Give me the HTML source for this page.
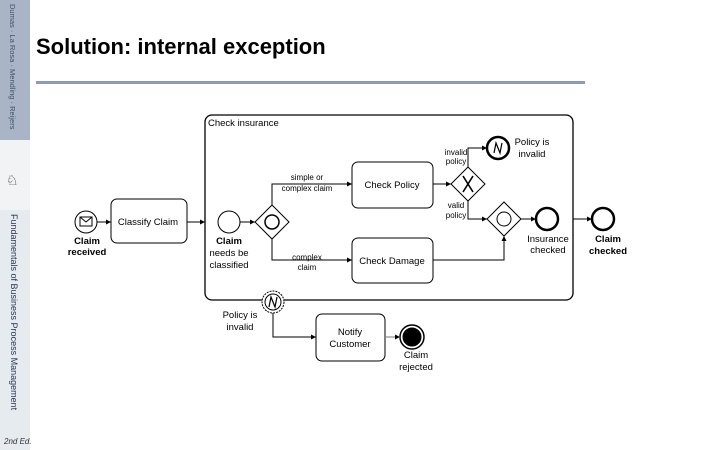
<!DOCTYPE html>
<html><head><meta charset="utf-8"><style>
html,body{margin:0;padding:0;background:#fff;}
body{width:720px;height:450px;position:relative;overflow:hidden;font-family:"Liberation Sans",sans-serif;}
</style></head><body>
<div style="position:absolute;left:0;top:0;width:30px;height:140px;background:#a9b5c6"></div>
<div style="position:absolute;left:0;top:140px;width:30px;height:70px;background:#f1f3f5"></div>
<div style="position:absolute;left:0;top:210px;width:30px;height:240px;background:#e6ebf0"></div>
<div style="position:absolute;left:8px;top:4px;height:130px;writing-mode:vertical-rl;font-size:7.5px;color:#40506a;white-space:nowrap;">Dumas · La Rosa · Mendling · Reijers</div>
<div style="position:absolute;left:9px;top:214px;height:200px;writing-mode:vertical-rl;font-size:9px;color:#2a3550;white-space:nowrap;">Fundamentals of Business Process Management</div>
<div style="position:absolute;left:4px;top:437px;font-size:8px;font-style:italic;color:#333">2nd Ed.</div>
<div style="position:absolute;left:6px;top:172px;font-size:14px;color:#222">♘</div>
<div style="position:absolute;left:36px;top:34px;font-size:22px;font-weight:bold;color:#000">Solution: internal exception</div>
<div style="position:absolute;left:36px;top:81px;width:549px;height:3px;background:#8e9bb0"></div>
<svg width="720" height="450" style="position:absolute;left:0;top:0" font-family="Liberation Sans, sans-serif">
<defs><marker id="a" markerWidth="6" markerHeight="6" refX="5" refY="3" orient="auto"><path d="M0,0.5 L5,3 L0,5.5z" fill="#000"/></marker></defs>
<g fill="none" stroke="#000" stroke-width="1">
<rect x="205" y="115" width="368" height="185" rx="7" stroke-width="1.3"/>
<rect x="111" y="199" width="76" height="44" rx="6"/>
<rect x="352" y="162" width="81" height="46" rx="6"/>
<rect x="352" y="238" width="81" height="45" rx="6"/>
<rect x="316" y="314" width="69" height="47" rx="6"/>
<circle cx="86" cy="222" r="11"/>
<rect x="80" y="217" width="12" height="9"/><path d="M80,217 L86,222 L92,217"/>
<circle cx="229" cy="222" r="11"/>
<path d="M272,205 L289,222 L272,239 L255,222z"/><circle cx="272" cy="222" r="7" stroke-width="1.5"/>
<path d="M468,167 L485,184 L468,201 L451,184z"/>
<path d="M463,176 L473,192 M473,176 L463,192" stroke-width="1.6"/>
<path d="M504,202 L521,219 L504,236 L487,219z"/><circle cx="504" cy="219" r="7"/>
<circle cx="498" cy="148" r="11" stroke-width="2.5"/>
<path d="M494,153 L496,143 L500,153 L502,143" stroke-width="1.2"/>
<circle cx="547" cy="219" r="11" stroke-width="2.5"/>
<circle cx="603" cy="219" r="11" stroke-width="2.5"/>
<circle cx="273" cy="302" r="11" fill="#fff" stroke-dasharray="2,1"/><circle cx="273" cy="302" r="8"/>
<path d="M269,307 L271,297 L275,307 L277,297" stroke-width="1.2"/>
<circle cx="412" cy="337" r="12" stroke-width="1.5"/><circle cx="412" cy="337" r="9" fill="#000"/>
<path d="M97,222 L111,222" marker-end="url(#a)"/>
<path d="M187,222 L205,222" marker-end="url(#a)"/>
<path d="M240,222 L255,222" marker-end="url(#a)"/>
<path d="M272,205 L272,184 L352,184" marker-end="url(#a)"/>
<path d="M272,239 L272,260 L352,260" marker-end="url(#a)"/>
<path d="M433,184 L451,184" marker-end="url(#a)"/>
<path d="M468,167 L468,148 L487,148" marker-end="url(#a)"/>
<path d="M468,201 L468,219 L487,219" marker-end="url(#a)"/>
<path d="M433,260 L504,260 L504,236" marker-end="url(#a)"/>
<path d="M521,219 L536,219" marker-end="url(#a)"/>
<path d="M573,219 L592,219" marker-end="url(#a)"/>
<path d="M273,313 L273,337 L316,337" marker-end="url(#a)"/>
<path d="M385,337 L400,337" stroke="#777" marker-end="url(#a)"/>
</g>
<g font-size="9.5" fill="#000" text-anchor="middle">
<text x="208" y="126" text-anchor="start">Check insurance</text>
<text x="148" y="225">Classify Claim</text>
<text x="392" y="188">Check Policy</text>
<text x="392" y="264">Check Damage</text>
<text x="350" y="335">Notify</text><text x="350" y="347">Customer</text>
<text x="87" y="244" font-weight="bold">Claim</text><text x="87" y="255" font-weight="bold">received</text>
<text x="229" y="244" font-weight="bold">Claim</text><text x="229" y="256">needs be</text><text x="229" y="268">classified</text>
<text x="307" y="180" font-size="8">simple or</text><text x="307" y="191" font-size="8">complex claim</text>
<text x="307" y="260" font-size="8">complex</text><text x="307" y="270" font-size="8">claim</text>
<text x="456" y="155" font-size="8">invalid</text><text x="456" y="164" font-size="8">policy</text>
<text x="456" y="208" font-size="8">valid</text><text x="456" y="218" font-size="8">policy</text>
<text x="532" y="145">Policy is</text><text x="532" y="157">invalid</text>
<text x="548" y="242">Insurance</text><text x="548" y="253">checked</text>
<text x="608" y="242" font-weight="bold">Claim</text><text x="608" y="254" font-weight="bold">checked</text>
<text x="240" y="318">Policy is</text><text x="240" y="330">invalid</text>
<text x="416" y="358">Claim</text><text x="416" y="370">rejected</text>
</g>
</svg>
</body></html>
